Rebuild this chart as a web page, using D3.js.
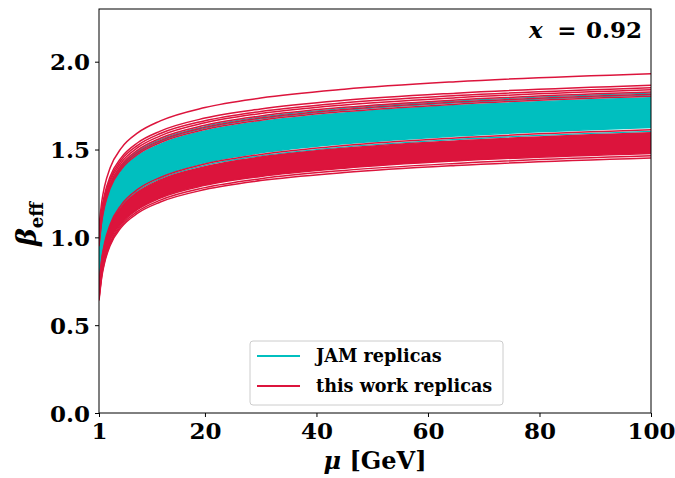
<!DOCTYPE html>
<html>
<head>
<meta charset="utf-8">
<script src="https://cdn.jsdelivr.net/npm/d3@7"></script>
<style>
  body { margin: 0; background: #fff; }
  text { font-family: "DejaVu Serif", "Liberation Serif", serif; font-weight: bold; fill: #000; }
</style>
</head>
<body>
<svg id="chart" width="675" height="478"></svg>
<script>
// renormalisation scale grid (GeV)
const muGrid = [1, 1.5, 2, 3, 5, 8, 12, 20, 30, 45, 65, 100];

const xTicks = [1, 20, 40, 60, 80, 100];
const yTicks = [0, 0.5, 1.0, 1.5, 2.0];

// JAM replicas: envelope of the dense band and the sparse replicas at its edges
const jamUpper = [0.940, 1.082, 1.167, 1.269, 1.379, 1.465, 1.531, 1.606, 1.659, 1.708, 1.750, 1.795];
const jamLower = [0.720, 0.871, 0.960, 1.069, 1.184, 1.276, 1.346, 1.424, 1.481, 1.533, 1.577, 1.625];
const jamEdge1 = [0.955, 1.097, 1.182, 1.284, 1.394, 1.480, 1.546, 1.621, 1.674, 1.723, 1.765, 1.810];
const jamEdge2 = [0.965, 1.107, 1.192, 1.295, 1.404, 1.491, 1.557, 1.631, 1.685, 1.734, 1.776, 1.821];
const jamEdge3 = [0.730, 0.875, 0.961, 1.066, 1.178, 1.266, 1.334, 1.410, 1.464, 1.514, 1.557, 1.603];

// this work replicas: dense band plus outlying replicas
const workUpper = [0.725, 0.870, 0.956, 1.060, 1.171, 1.259, 1.327, 1.402, 1.457, 1.507, 1.549, 1.595];
const workLower = [0.655, 0.792, 0.873, 0.972, 1.077, 1.160, 1.224, 1.296, 1.347, 1.394, 1.435, 1.478];
const workTop1  = [1.060, 1.205, 1.291, 1.396, 1.508, 1.596, 1.663, 1.739, 1.793, 1.843, 1.886, 1.932];
const workTop2  = [1.020, 1.161, 1.244, 1.346, 1.454, 1.540, 1.605, 1.679, 1.731, 1.780, 1.821, 1.866];
const workTop3  = [1.005, 1.146, 1.230, 1.331, 1.440, 1.525, 1.591, 1.664, 1.717, 1.766, 1.807, 1.852];
const workTop4  = [0.990, 1.131, 1.215, 1.318, 1.426, 1.512, 1.578, 1.652, 1.705, 1.754, 1.795, 1.840];
const workTop5  = [0.975, 1.117, 1.201, 1.303, 1.412, 1.498, 1.564, 1.638, 1.691, 1.740, 1.782, 1.827];
const workMid1  = [0.960, 1.102, 1.187, 1.289, 1.399, 1.485, 1.551, 1.626, 1.679, 1.728, 1.770, 1.815];
const workMid2  = [0.950, 1.092, 1.176, 1.279, 1.388, 1.474, 1.540, 1.614, 1.667, 1.716, 1.758, 1.803];
const workMid3  = [0.735, 0.881, 0.968, 1.073, 1.185, 1.274, 1.341, 1.418, 1.472, 1.523, 1.566, 1.612];
const workLow1  = [0.648, 0.784, 0.864, 0.962, 1.067, 1.149, 1.212, 1.283, 1.334, 1.381, 1.421, 1.464];
const workLow2  = [0.640, 0.775, 0.855, 0.953, 1.057, 1.139, 1.201, 1.272, 1.323, 1.369, 1.409, 1.452];

const seriesNames = ["JAM replicas", "this work replicas"];
const jamColor = "#00bfbf";
const workColor = "#dc143c";

const svg = d3.select("#chart");
const plot = { left: 99, right: 651, top: 9, bottom: 413 };

const x = d3.scaleLinear().domain([1, 100]).range([plot.left, plot.right]);
const y = d3.scaleLinear().domain([0, 2.3]).range([plot.bottom, plot.top]);

svg.append("defs").append("clipPath").attr("id", "clip")
  .append("rect").attr("x", plot.left).attr("y", plot.top)
  .attr("width", plot.right - plot.left).attr("height", plot.bottom - plot.top);

const g = svg.append("g").attr("clip-path", "url(#clip)");

const line = d3.line().x((d, i) => x(muGrid[i])).y(d => y(d)).curve(d3.curveMonotoneX);
const band = (lo, hi) => d3.area()
  .x((d, i) => x(muGrid[i])).y0((d, i) => y(lo[i])).y1((d, i) => y(hi[i]))
  .curve(d3.curveMonotoneX)(muGrid);

function drawBand(lo, hi, color) {
  g.append("path").attr("d", band(lo, hi)).attr("fill", color).attr("stroke", color).attr("stroke-width", 1.5);
}
function drawLine(vals, color, w) {
  g.append("path").attr("d", line(vals)).attr("fill", "none")
    .attr("stroke", color).attr("stroke-width", w || 1.5);
}

// JAM band first
drawBand(jamLower, jamUpper, jamColor);
[jamEdge1, jamEdge2, jamEdge3].forEach(v => drawLine(v, jamColor, 1.3));

// this work on top
drawBand(workLower, workUpper, workColor);
[workTop1, workTop2, workTop3, workTop4, workTop5, workMid1, workMid2, workMid3, workLow1, workLow2]
  .forEach(v => drawLine(v, workColor, 1.5));

// axes
const xAxis = d3.axisBottom(x).tickValues(xTicks).tickSize(4).tickPadding(4).tickFormat(d3.format("d"));
const yAxis = d3.axisLeft(y).tickValues(yTicks).tickSize(4).tickPadding(5).tickFormat(d3.format(".1f"));

const gx = svg.append("g").attr("transform", `translate(0,${plot.bottom})`).call(xAxis);
const gy = svg.append("g").attr("transform", `translate(${plot.left},0)`).call(yAxis);
[gx, gy].forEach(a => {
  a.select(".domain").remove();
  a.selectAll(".tick line").attr("stroke", "#000").attr("stroke-width", 1);
  a.selectAll(".tick text").style("font-family", "DejaVu Serif, serif")
    .style("font-weight", "bold").style("font-size", "23px").attr("fill", "#000");
});
gx.selectAll(".tick text").attr("dy", "0.8em");
gy.selectAll(".tick text").attr("dy", "0.36em");

// frame
svg.append("rect").attr("x", plot.left).attr("y", plot.top)
  .attr("width", plot.right - plot.left).attr("height", plot.bottom - plot.top)
  .attr("fill", "none").attr("stroke", "#000").attr("stroke-width", 1);

// axis titles
const xl = svg.append("text").attr("x", (plot.left + plot.right) / 2).attr("y", 469)
  .attr("text-anchor", "middle").style("font-size", "24px");
xl.append("tspan").style("font-style", "italic").text("μ");
xl.append("tspan").text(" [GeV]");

const yl = svg.append("text").attr("transform", "translate(36,224) rotate(-90)")
  .attr("text-anchor", "middle").style("font-size", "27px");
yl.append("tspan").style("font-style", "italic").text("β");
yl.append("tspan").attr("dy", 7).style("font-size", "18px").text("eff");

// kinematic label
svg.append("text").attr("x", 529).attr("y", 38).style("font-size", "23px")
  .style("font-style", "italic").text("x");
svg.append("text").attr("x", 567).attr("y", 38).attr("text-anchor", "middle")
  .style("font-size", "23px").text("=");
svg.append("text").attr("x", 642).attr("y", 38).attr("text-anchor", "end")
  .style("font-size", "23px").text("0.92");

// legend
const lg = svg.append("g");
lg.append("rect").attr("x", 250).attr("y", 341).attr("width", 253).attr("height", 64)
  .attr("rx", 3).attr("fill", "#fff").attr("fill-opacity", 0.8)
  .attr("stroke", "#cccccc").attr("stroke-width", 1);
[jamColor, workColor].forEach((c, i) => {
  const yy = 356 + i * 30;
  lg.append("line").attr("x1", 257).attr("x2", 300).attr("y1", yy).attr("y2", yy)
    .attr("stroke", c).attr("stroke-width", 2);
  lg.append("text").attr("x", 316).attr("y", yy + 6).style("font-size", "17.6px").text(seriesNames[i]);
});
</script>
</body>
</html>
